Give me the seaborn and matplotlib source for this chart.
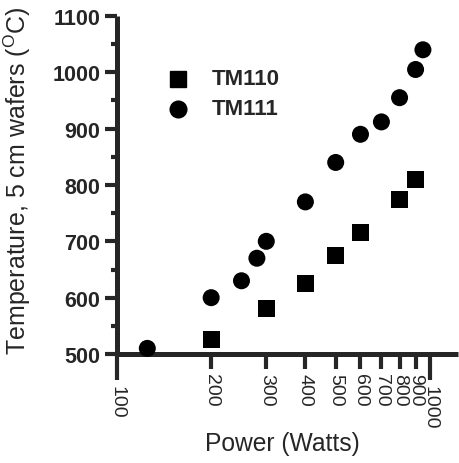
import numpy as np
import pandas as pd
import matplotlib
matplotlib.use("Agg")
import matplotlib.pyplot as plt
from matplotlib.ticker import FixedLocator, FixedFormatter, NullFormatter
import seaborn as sns

# TM110 mode (squares)
tm110_power = [200, 300, 400, 500, 600, 800, 900]
tm110_temp = [525, 580, 625, 675, 715, 775, 810]

# TM111 mode (circles)
tm111_power = [125, 200, 250, 280, 300, 400, 500, 600, 700, 800, 900, 950]
tm111_temp = [510, 600, 630, 670, 700, 770, 840, 890, 912, 955, 1005, 1040]

major_x = [100, 1000]
minor_x = [200, 300, 400, 500, 600, 700, 800, 900]
y_major = [500, 600, 700, 800, 900, 1000, 1100]
y_minor = [550, 650, 750, 850, 950, 1050]

df = pd.concat([
    pd.DataFrame({"power": tm110_power, "temp": tm110_temp, "mode": "TM110"}),
    pd.DataFrame({"power": tm111_power, "temp": tm111_temp, "mode": "TM111"}),
])

sns.set_style("ticks")
plt.rcParams['font.family'] = ['Liberation Sans', 'DejaVu Sans']

fig = plt.figure(figsize=(4.6, 4.64), dpi=100)
ax = fig.add_axes([0.2543, 0.2349, 0.7414, 0.7285])

sns.scatterplot(data=df, x="power", y="temp", style="mode",
                markers={"TM110": "s", "TM111": "o"},
                color="black", s=150, edgecolor="none", linewidth=0,
                clip_on=False, legend=False, ax=ax, zorder=3)

ax.set_xscale("log")
ax.set_xlim(100, 1230)
ax.set_ylim(500, 1100)

for side in ["top", "right"]:
    ax.spines[side].set_visible(False)
for side in ["left", "bottom"]:
    ax.spines[side].set_linewidth(3.6)
    ax.spines[side].set_capstyle("butt")

ax.xaxis.set_major_locator(FixedLocator(major_x))
ax.xaxis.set_major_formatter(FixedFormatter([str(v) for v in major_x]))
ax.xaxis.set_minor_locator(FixedLocator(minor_x))
ax.xaxis.set_minor_formatter(FixedFormatter([str(v) for v in minor_x]))
ax.tick_params(axis="x", which="major", length=19, width=3, direction="out",
               labelsize=14, labelrotation=-90, pad=3)
ax.tick_params(axis="x", which="minor", length=11, width=3, direction="out",
               labelsize=14, labelrotation=-90, pad=3)

ax.yaxis.set_major_locator(FixedLocator(y_major))
ax.yaxis.set_minor_locator(FixedLocator(y_minor))
ax.yaxis.set_minor_formatter(NullFormatter())
ax.tick_params(axis="y", which="major", length=9, width=3, direction="out",
               labelsize=15.5, pad=3)
ax.tick_params(axis="y", which="minor", length=4, width=3, direction="out")
for lab in ax.get_yticklabels():
    lab.set_fontweight("bold")

ax.set_xlabel("Power (Watts)", fontsize=17.7)
ax.xaxis.set_label_coords(0.485, -0.228)
ax.set_ylabel(r"Temperature, 5 cm wafers ($\mathregular{^{O}}$C)", fontsize=18)
ax.yaxis.set_label_coords(-0.245, 0.515)

# legend drawn by hand to match the boxless layout
ax.plot([0.179], [0.814], marker="s", ms=11, color="black", transform=ax.transAxes, clip_on=False)
ax.plot([0.179], [0.725], marker="o", ms=12, color="black", transform=ax.transAxes, clip_on=False)
ax.text(0.279, 0.814, "TM110", transform=ax.transAxes, fontsize=16, fontweight="bold", va="center")
ax.text(0.279, 0.725, "TM111", transform=ax.transAxes, fontsize=16, fontweight="bold", va="center")

fig.savefig("out.png", dpi=100)
